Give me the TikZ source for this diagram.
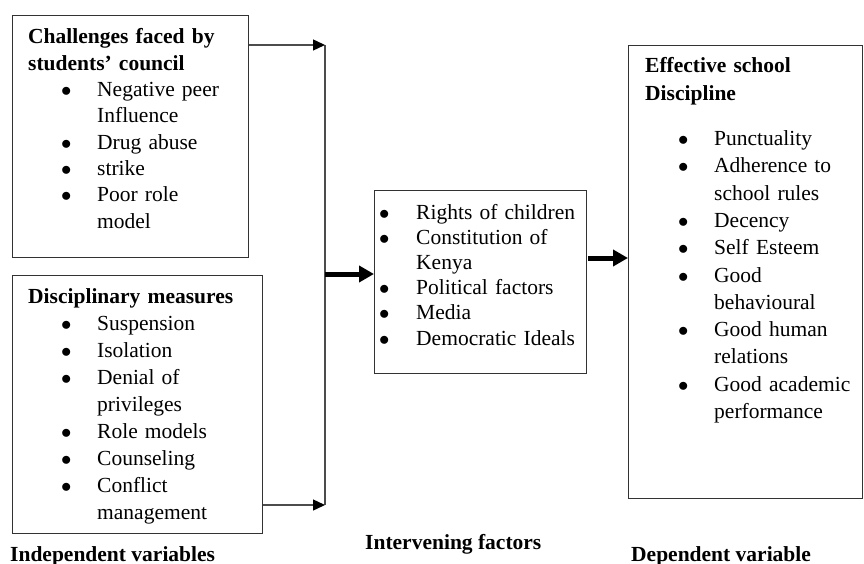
\documentclass[tikz,border=0pt]{standalone}
\usepackage{fontspec}
\setmainfont{Liberation Serif}
\usetikzlibrary{arrows.meta}
\newcommand{\bitem}{\hspace*{33pt}\makebox[36pt][l]{$\bullet$}}
\newcommand{\bcont}{\hspace*{69pt}}
\newcommand{\citem}{\makebox[37pt][l]{$\bullet$}}
\newcommand{\ccont}{\hspace*{37pt}}

\begin{document}
\begin{tikzpicture}[x=1pt,y=-1pt,
    frame/.style={draw=black!80,line width=1.1pt,inner sep=0pt,anchor=north west},
    list/.style={anchor=base west,inner sep=0pt,align=left,text width=240pt,
      font=\fontsize{21.5}{#1}\selectfont},
    thin arrow/.style={draw=black!70,line width=1.4pt,-{Triangle[length=12pt,width=11pt,color=black]}},
    fat arrow/.style={line width=5pt,-{Triangle[length=15pt,width=16pt]}},
    caption/.style={anchor=base west,inner sep=0pt,font=\fontsize{21.5}{26}\selectfont\bfseries}]
  \useasboundingbox (0,0) rectangle (864,564);

  % boxes
  \node[frame,minimum width=236pt,minimum height=242pt] (chal) at (12,15) {};
  \node[frame,minimum width=250pt,minimum height=258pt] (meas) at (12,275) {};
  \node[frame,minimum width=212pt,minimum height=183pt] (inter) at (374,190) {};
  \node[frame,minimum width=234pt,minimum height=453pt] (disc) at (628,45) {};

  % box contents
  \node[list=26.3pt] (chaltext) at (28,44) {\textbf{Challenges faced by}\\
    \textbf{students’ council}\\
    \bitem Negative peer\\
    \bcont Influence\\
    \bitem Drug abuse\\
    \bitem strike\\
    \bitem Poor role\\
    \bcont model};
  \node[list=27.1pt] (meastext) at (28,303) {\textbf{Disciplinary measures}\\
    \bitem Suspension\\
    \bitem Isolation\\
    \bitem Denial of\\
    \bcont privileges\\
    \bitem Role models\\
    \bitem Counseling\\
    \bitem Conflict\\
    \bcont management};
  \node[list=25.2pt] (intertext) at (379,219) {\citem Rights of children\\
    \citem Constitution of\\
    \ccont Kenya\\
    \citem Political factors\\
    \citem Media\\
    \citem Democratic Ideals};
  \node[list=27.3pt] (disctext) at (645,73) {\textbf{Effective school}\\
    \textbf{Discipline}\\[18pt]
    \bitem Punctuality\\
    \bitem Adherence to\\
    \bcont school rules\\
    \bitem Decency\\
    \bitem Self Esteem\\
    \bitem Good\\
    \bcont behavioural\\
    \bitem Good human\\
    \bcont relations\\
    \bitem Good academic\\
    \bcont performance};

  % connectors
  \coordinate (topj) at (325,45);
  \coordinate (botj) at (325,505);
  \coordinate (midj) at (325,274);
  \coordinate (outj) at (588,258);
  \draw[draw=black!70,line width=1.4pt] (topj) -- (botj);
  \draw[thin arrow] (topj -| chal.east) -- (topj);
  \draw[thin arrow] (botj -| meas.east) -- (botj);
  \draw[fat arrow] (midj) -- (midj -| inter.west);
  \draw[fat arrow] (outj) -- (outj -| disc.west);

  % captions
  \node[caption] (indep) at (10,561) {Independent variables};
  \node[caption] (interv) at (365,549) {Intervening factors};
  \node[caption] (dep) at (631,561) {Dependent variable};
\end{tikzpicture}
\end{document}
